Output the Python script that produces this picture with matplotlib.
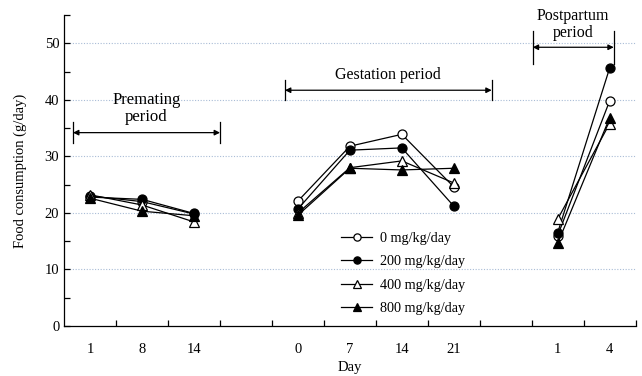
import matplotlib.pyplot as plt
import numpy as np

plt.rcParams['font.family'] = ['Liberation Serif', 'DejaVu Serif']

# category labels along the x axis (blank slots separate periods)
day_labels = ['1', '8', '14', '', '0', '7', '14', '21', '', '1', '4']

# x slot index of each period's points
premating_x = [0, 1, 2]
gestation_x = [4, 5, 6, 7]
postpartum_x = [9, 10]

doses = ['0 mg/kg/day', '200 mg/kg/day', '400 mg/kg/day', '800 mg/kg/day']

premating = {
    '0 mg/kg/day': [23.0, 22.0, 19.8],
    '200 mg/kg/day': [22.8, 22.4, 19.9],
    '400 mg/kg/day': [23.2, 21.4, 18.4],
    '800 mg/kg/day': [22.6, 20.3, 19.5],
}
gestation = {
    '0 mg/kg/day': [22.1, 31.8, 33.9, 24.6],
    '200 mg/kg/day': [20.7, 31.1, 31.5, 21.2],
    '400 mg/kg/day': [20.0, 28.0, 29.2, 25.3],
    '800 mg/kg/day': [19.6, 27.9, 27.6, 27.9],
}
postpartum = {
    '0 mg/kg/day': [16.0, 39.8],
    '200 mg/kg/day': [16.5, 45.6],
    '400 mg/kg/day': [18.9, 35.8],
    '800 mg/kg/day': [14.6, 36.8],
}

markers = {
    '0 mg/kg/day': ('o', 'white'),
    '200 mg/kg/day': ('o', 'black'),
    '400 mg/kg/day': ('^', 'white'),
    '800 mg/kg/day': ('^', 'black'),
}

fig, ax = plt.subplots(figsize=(6.42, 3.76), dpi=100)
fig.subplots_adjust(left=0.1, right=0.99, top=0.96, bottom=0.133)

for dose in doses:
    m, fc = markers[dose]
    for xs, data in [(premating_x, premating), (gestation_x, gestation), (postpartum_x, postpartum)]:
        ax.plot(xs, data[dose], color='black', linewidth=0.9, marker=m,
                markersize=6.5, markerfacecolor=fc, markeredgecolor='black',
                markeredgewidth=0.9, label=dose if xs == premating_x else None)

# axes
ax.set_xlim(-0.5, len(day_labels) - 0.5)
ax.set_ylim(0, 55)
ax.set_xticks(np.arange(len(day_labels)))
ax.set_xticklabels(day_labels, fontsize=10.5)
ax.set_xticks(np.arange(0.5, len(day_labels), 1), minor=True)
ax.tick_params(axis='x', which='major', length=0, pad=12)
ax.tick_params(axis='x', which='minor', direction='in', length=4, width=0.9)
ax.set_yticks(np.arange(0, 51, 10))
ax.set_yticklabels([str(v) for v in range(0, 51, 10)], fontsize=10.5)
ax.set_yticks(np.arange(5, 56, 10), minor=True)
ax.tick_params(axis='y', which='both', direction='in', length=4, width=0.9)
for v in range(10, 51, 10):
    ax.axhline(v, color='#a9bcd6', linestyle=(0, (1, 1.5)), linewidth=0.8, zorder=0)

ax.spines['top'].set_visible(False)
ax.spines['right'].set_visible(False)
ax.spines['left'].set_linewidth(0.9)
ax.spines['bottom'].set_linewidth(0.9)

ax.set_xlabel('Day', fontsize=10.5, labelpad=4)
ax.set_ylabel('Food consumption (g/day)', fontsize=10.5, labelpad=13)

# period annotations
def period(x0, x1, y, h, label, ty, fs):
    ax.annotate('', xy=(x0, y), xytext=(x1, y),
                arrowprops=dict(arrowstyle='<|-|>', color='black', lw=0.9,
                                mutation_scale=8, shrinkA=0, shrinkB=0))
    ax.plot([x0, x0], [y - h, y + h], color='black', linewidth=0.9)
    ax.plot([x1, x1], [y - h, y + h], color='black', linewidth=0.9)
    ax.text((x0 + x1) / 2, ty, label, ha='center', va='bottom', fontsize=fs,
            linespacing=1.1)

period(-0.33, 2.5, 34.2, 1.85, 'Premating\nperiod', 35.6, 12)
period(3.75, 7.73, 41.7, 1.8, 'Gestation period', 43.0, 11.5)
period(8.52, 10.08, 49.3, 2.9, 'Postpartum\nperiod', 50.4, 11.5)

leg = ax.legend(loc='upper left', bbox_to_anchor=(0.475, 0.32), frameon=False,
                fontsize=10.2, handlelength=2.2, labelspacing=0.72, markerscale=0.8,
                handletextpad=0.5, borderaxespad=0)

fig.savefig('out.png', dpi=100)
